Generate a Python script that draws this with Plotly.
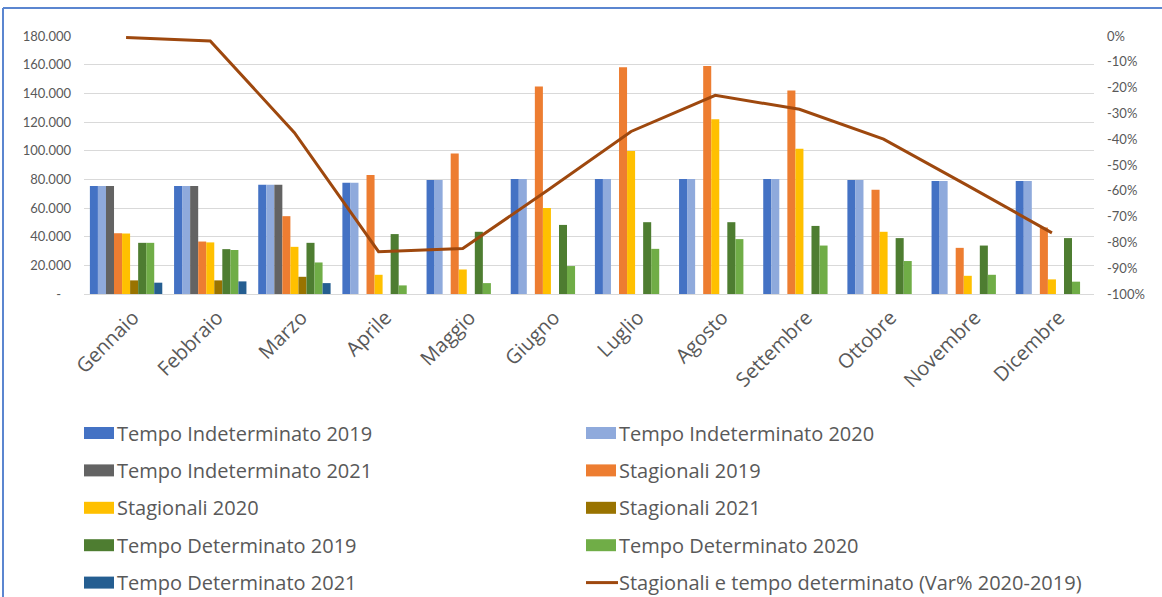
import plotly.graph_objects as go

# Months on the category axis
months = ["Gennaio", "Febbraio", "Marzo", "Aprile", "Maggio", "Giugno",
          "Luglio", "Agosto", "Settembre", "Ottobre", "Novembre", "Dicembre"]

# Monthly counts per contract type and year (None = not yet available)
tempo_indeterminato_2019 = [75400, 75400, 76300, 77700, 79500, 80200, 80200, 80200, 80200, 79500, 78900, 78900]
tempo_indeterminato_2020 = [75400, 75400, 76300, 77700, 79500, 80200, 80200, 80200, 80200, 79500, 78900, 78900]
tempo_indeterminato_2021 = [75400, 75400, 76300, None, None, None, None, None, None, None, None, None]
stagionali_2019 = [42400, 36600, 54300, 83000, 98100, 144800, 158200, 159100, 142000, 72800, 32200, 46400]
stagionali_2020 = [42200, 36000, 32900, 13400, 17100, 60000, 99700, 122000, 101300, 43400, 12700, 10200]
stagionali_2021 = [9500, 9500, 12000, None, None, None, None, None, None, None, None, None]
tempo_determinato_2019 = [35700, 31300, 35700, 41800, 43400, 48200, 50100, 50100, 47500, 39000, 33800, 39000]
tempo_determinato_2020 = [35700, 30700, 22000, 6000, 7600, 19500, 31500, 38300, 33800, 23000, 13400, 8600]
tempo_determinato_2021 = [7900, 8800, 7600, None, None, None, None, None, None, None, None, None]

# Change 2020 vs 2019 for seasonal + fixed-term contracts (fraction)
var_pct_2020_2019 = [-0.006, -0.019, -0.375, -0.836, -0.824, -0.60, -0.37, -0.23, -0.284, -0.40, -0.58, -0.763]

# Axis ticks
left_ticks = [0, 20000, 40000, 60000, 80000, 100000, 120000, 140000, 160000, 180000]
right_ticks = [-1.0, -0.9, -0.8, -0.7, -0.6, -0.5, -0.4, -0.3, -0.2, -0.1, 0.0]

bar_series = [
    ("Tempo Indeterminato 2019", tempo_indeterminato_2019, "#4472C4"),
    ("Tempo Indeterminato 2020", tempo_indeterminato_2020, "#8FAADC"),
    ("Tempo Indeterminato 2021", tempo_indeterminato_2021, "#636363"),
    ("Stagionali 2019", stagionali_2019, "#ED7D31"),
    ("Stagionali 2020", stagionali_2020, "#FFC000"),
    ("Stagionali 2021", stagionali_2021, "#997300"),
    ("Tempo Determinato 2019", tempo_determinato_2019, "#4E7D31"),
    ("Tempo Determinato 2020", tempo_determinato_2020, "#70AD47"),
    ("Tempo Determinato 2021", tempo_determinato_2021, "#255E91"),
]
line_name = "Stagionali e tempo determinato (Var% 2020-2019)"
line_color = "#9E480E"

TEXT = "#595959"
FONT = "Lato"
LABEL_FONT = "Open Sans"
W, H = 1162, 597
ML, MR, MT, MB = 84, 68, 36, 303
PW, PH = W - ML - MR, H - MT - MB


def px_x(px):
    return (px - ML) / PW


def px_y(py):
    return (H - MB - py) / PH


def fmt_thousands(v):
    if v == 0:
        return "-\u00a0\u00a0\u00a0"
    return f"{v:,}".replace(",", ".")


def fmt_pct(v):
    return f"{round(v * 100)}%".replace("\u2212", "-")


fig = go.Figure()
for name, vals, color in bar_series:
    fig.add_trace(go.Bar(x=months, y=vals, name=name, marker_color=color,
                         marker_line_width=0, showlegend=False))

fig.add_trace(go.Scatter(x=months, y=var_pct_2020_2019, name=line_name, yaxis="y2",
                         mode="lines", line=dict(color=line_color, width=3),
                         showlegend=False))

# Legend drawn as two columns of swatches and labels below the chart
shapes = []
annotations = []
entries = [(n, c, "bar") for n, _, c in bar_series] + [(line_name, line_color, "line")]
col_x = [84, 586]
for i, (name, color, kind) in enumerate(entries):
    row, col = divmod(i, 2)
    cy = 433 + 37.4 * row
    x0 = col_x[col]
    if kind == "bar":
        shapes.append(dict(type="rect", xref="paper", yref="paper",
                           x0=px_x(x0), x1=px_x(x0 + 30), y0=px_y(cy - 6), y1=px_y(cy + 6),
                           fillcolor=color, line_width=0, layer="above"))
    else:
        shapes.append(dict(type="line", xref="paper", yref="paper",
                           x0=px_x(x0), x1=px_x(x0 + 32), y0=px_y(cy), y1=px_y(cy),
                           line=dict(color=color, width=3), layer="above"))
    annotations.append(dict(text=name, xref="paper", yref="paper",
                            x=px_x(x0 + 31), y=px_y(cy), xanchor="left", yanchor="middle",
                            showarrow=False, font=dict(family=LABEL_FONT, size=20, color=TEXT)))

# Chart-area border (left and top edges)
border = "#5B86D0"
shapes.append(dict(type="line", xref="paper", yref="paper",
                   x0=px_x(3), x1=px_x(3), y0=px_y(8), y1=px_y(600),
                   line=dict(color=border, width=2), layer="above"))
shapes.append(dict(type="line", xref="paper", yref="paper",
                   x0=px_x(3), x1=px_x(1165), y0=px_y(8), y1=px_y(8),
                   line=dict(color=border, width=2), layer="above"))

fig.update_layout(
    width=W, height=H,
    margin=dict(l=ML, r=MR, t=MT, b=MB, autoexpand=False),
    paper_bgcolor="white", plot_bgcolor="white",
    barmode="group", bargap=0.14, bargroupgap=0,
    font=dict(family=FONT, color=TEXT),
    showlegend=False,
    xaxis=dict(type="category", tickangle=-45, showgrid=False, ticks="",
               showline=True, linecolor="#D9D9D9", linewidth=1,
               ticklabelstandoff=3, ticklabelshift=7,
               tickfont=dict(family=LABEL_FONT, size=20, color=TEXT)),
    yaxis=dict(range=[0, 180000], tickvals=left_ticks,
               ticktext=[fmt_thousands(v) for v in left_ticks],
               showgrid=True, gridcolor="#D9D9D9", gridwidth=1, zeroline=False,
               ticks="", ticklabelstandoff=12,
               tickfont=dict(family=FONT, size=13, color=TEXT)),
    yaxis2=dict(range=[-1, 0], overlaying="y", side="right", tickvals=right_ticks,
                ticktext=[fmt_pct(v) for v in right_ticks], showgrid=False,
                zeroline=False, ticks="", ticklabelstandoff=12,
                tickfont=dict(family=FONT, size=13, color=TEXT)),
    shapes=shapes,
    annotations=annotations,
)

fig.write_html("out.html")
